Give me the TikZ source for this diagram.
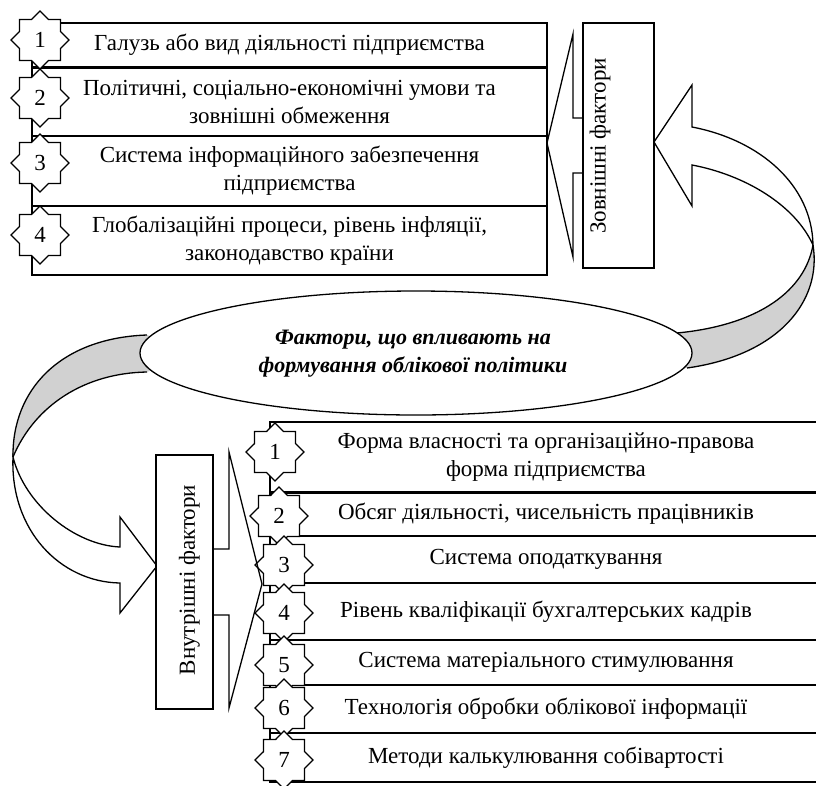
\documentclass[tikz,border=0pt]{standalone}
\usepackage{fontspec}
\setmainfont{Liberation Serif}
\usetikzlibrary{shapes.geometric}
\begin{document}
\begin{tikzpicture}[x=1pt,y=-1pt,
  every node/.style={font=\fontsize{23}{28}\selectfont, inner sep=0pt},
  lw/.style={line width=1.3pt, line join=miter},
  rowtop/.style={draw, lw, align=center, minimum width=515pt},
  rowbot/.style={draw, lw, align=center, minimum width=552pt},
  numstar/.style={star, star points=8, star point ratio=1.31, draw, lw, fill=white, minimum size=58pt, inner sep=0pt},
  sidebox/.style={draw, lw, fill=white},
  band/.style={fill=black!18},
  ribbon/.style={draw, lw, fill=white}
]
\useasboundingbox (0,0) rectangle (816,785);

% ---- right curved arrow (ellipse -> external factors)
\coordinate (rc) at (813,245);
\fill[band] (rc) .. controls (805,290) and (760,325) .. (677,333) -- (640,350) -- (687,368) .. controls (780,355) and (822,300) .. (rc) -- cycle;
\draw[lw] (rc) .. controls (805,290) and (760,325) .. (677,333);
\draw[lw] (rc) .. controls (822,300) and (780,355) .. (687,368);
\draw[ribbon] (692,127) -- (692,85) -- (654,142) -- (692,206) -- (692,165)
  .. controls (745,175) and (795,205) .. (rc)
  .. controls (812,185) and (760,140) .. (692,127) -- cycle;

% ---- left curved arrow (ellipse -> internal factors)
\coordinate (lc) at (13,457);
\fill[band] (147,335) .. controls (60,338) and (12,390) .. (lc) .. controls (35,405) and (85,373) .. (147,372) -- (200,353) -- cycle;
\draw[lw] (147,335) .. controls (60,338) and (12,390) .. (lc);
\draw[lw] (147,372) .. controls (85,373) and (35,405) .. (lc);
\draw[ribbon] (lc) .. controls (25,505) and (75,545) .. (120,547) -- (120,517) -- (157,566) -- (120,613) -- (120,583)
  .. controls (60,582) and (10,530) .. (lc) -- cycle;

% ---- central ellipse
\node[draw, lw, fill=white, ellipse, minimum width=552pt, minimum height=124pt] (el) at (416,353) {};
\node[font=\fontsize{22}{28}\selectfont\bfseries\itshape, align=center] (elt) at (413,354)
  {Фактори, що впливають на\\формування облікової політики};

% ---- top rows
\node[rowtop, minimum height=44pt] (t1) at (289.5,45) {Галузь або вид діяльності підприємства};
\node[rowtop, minimum height=69pt] (t2) at (289.5,101.5) {Політичні, соціально-економічні умови та\\зовнішні обмеження};
\node[rowtop, minimum height=70pt] (t3) at (289.5,171) {Система інформаційного забезпечення\\підприємства};
\node[rowtop, minimum height=69pt] (t4) at (289.5,240.5) {Глобалізаційні процеси, рівень інфляції,\\законодавство країни};
\draw[line width=2.6pt] (t1.south west) -- (t1.south east);

% ---- bottom rows
\node[rowbot, minimum height=70pt] (b1) at (546,457) {Форма власності та організаційно-правова\\форма підприємства};
\node[rowbot, minimum height=44pt] (b2) at (546,514) {Обсяг діяльності, чисельність працівників};
\node[rowbot, minimum height=47pt] (b3) at (546,559.5) {Система оподаткування};
\node[rowbot, minimum height=57pt] (b4) at (546,611.5) {Рівень кваліфікації бухгалтерських кадрів};
\node[rowbot, minimum height=45pt] (b5) at (546,662.5) {Система матеріального стимулювання};
\node[rowbot, minimum height=48pt] (b6) at (546,709) {Технологія обробки облікової інформації};
\node[rowbot, minimum height=49pt] (b7) at (546,757.5) {Методи калькулювання собівартості};
\draw[line width=2.6pt] (b1.south west) -- (b1.south east);

% ---- side boxes
\node[sidebox, minimum width=71pt, minimum height=245pt] (zf) at (618.5,145.5) {};
\node[rotate=90] (zft) at (600,146) {Зовнішні фактори};
\node[sidebox, minimum width=57pt, minimum height=254pt] (vf) at (184.5,582) {};
\node[rotate=90] (vft) at (189.5,580) {Внутрішні фактори};

% ---- stars
\node[numstar] (s1) at (40,40) {1};
\node[numstar] (s2) at (40,98) {2};
\node[numstar] (s3) at (40,163) {3};
\node[numstar] (s4) at (40,235) {4};
\node[numstar] (n1) at (275,452) {1};
\node[numstar] (n2) at (279,516) {2};
\node[numstar] (n3) at (284,565) {3};
\node[numstar] (n4) at (284,613) {4};
\node[numstar] (n5) at (284,665) {5};
\node[numstar] (n6) at (284,708) {6};
\node[numstar] (n7) at (284,760) {7};

% ---- straight arrows from side boxes
\draw[lw] (583,118) -- (573,118) -- (573,34) -- (547,143) -- (573,257) -- (573,173) -- (583,173);
\draw[lw] (213,549) -- (229,549) -- (229,452) -- (262,584) -- (229,708) -- (229,615) -- (213,615);
\end{tikzpicture}
\end{document}
